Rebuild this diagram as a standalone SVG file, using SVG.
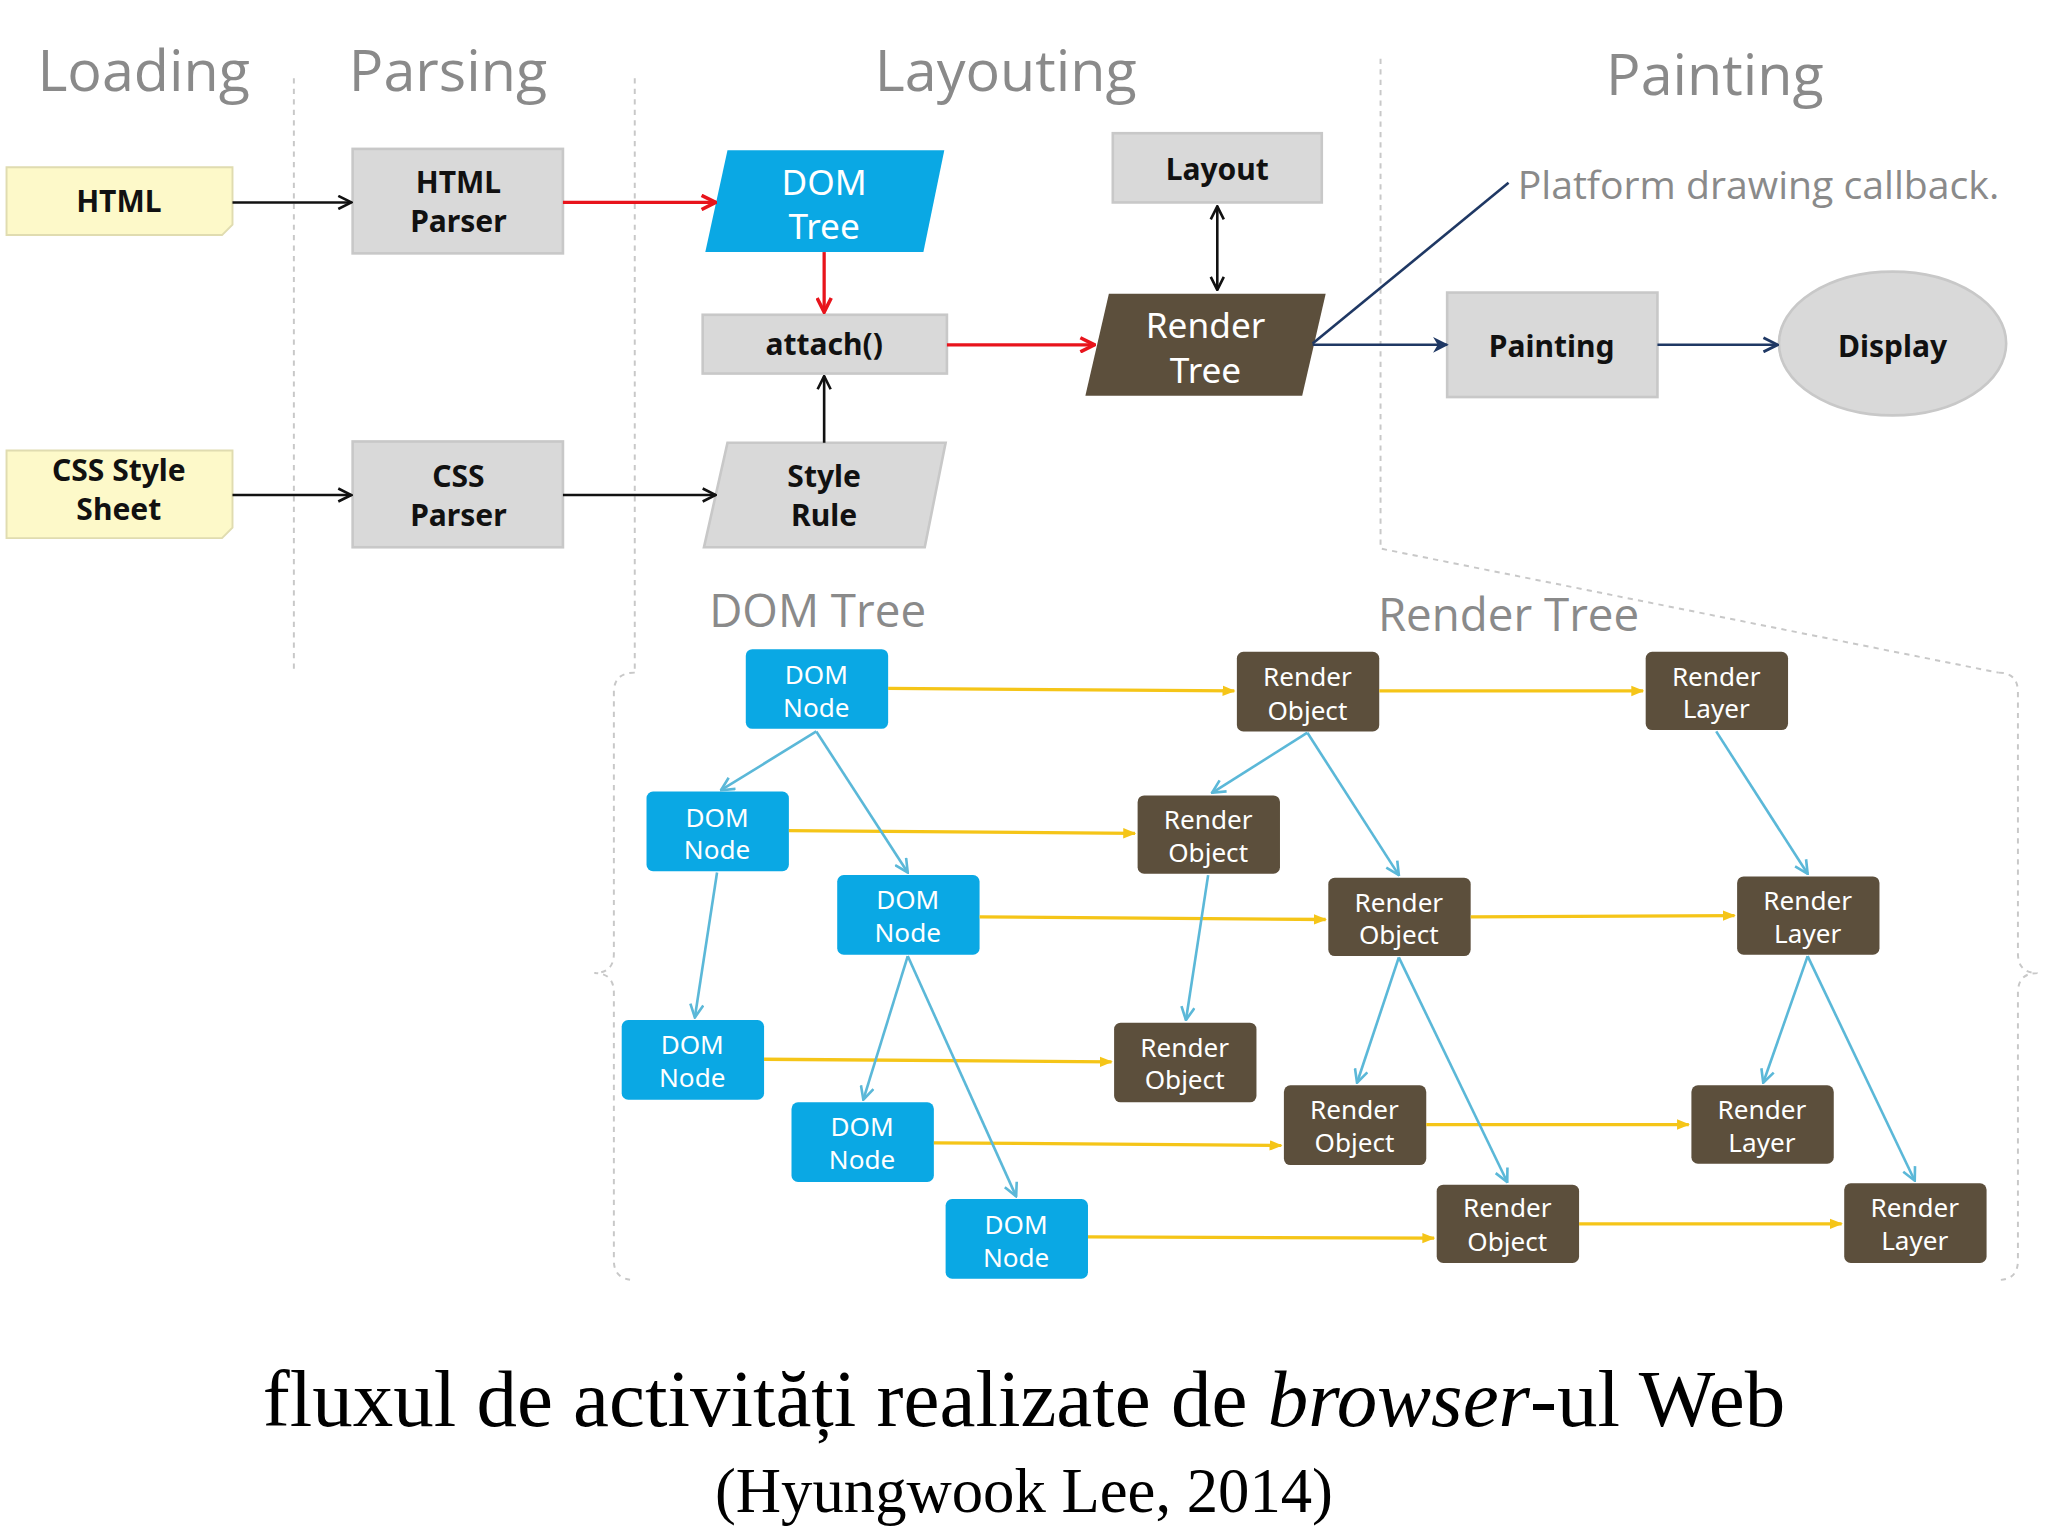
<svg xmlns="http://www.w3.org/2000/svg" width="2048" height="1536" viewBox="0 0 2048 1536">
<style>
.hd{font-family:"Open Sans","Noto Sans",sans-serif;font-size:44px;fill:#8a8a8a;text-anchor:middle}
.sub{font-family:"Open Sans","Noto Sans",sans-serif;font-size:35px;fill:#8a8a8a;text-anchor:middle}
.b{font-family:"Noto Sans","DejaVu Sans",sans-serif;font-weight:bold;font-size:23px;fill:#111;text-anchor:middle}
.w{font-family:"Noto Sans","DejaVu Sans",sans-serif;font-size:27px;fill:#fff;text-anchor:middle}
.s{font-family:"Noto Sans","DejaVu Sans",sans-serif;font-size:20px;fill:#fff;text-anchor:middle}
.g{fill:#d9d9d9;stroke:#c8c8c8;stroke-width:2}
.note{fill:#fdf9c9;stroke:#e0dcb0;stroke-width:1.5}
.dn{fill:#0aa8e4}
.rn{fill:#5c4f3c}
.dash{stroke:#c8c8c8;stroke-width:1.5;stroke-dasharray:4 4;fill:none}
.k{stroke:#111;stroke-width:2;fill:none}
.r{stroke:#e8141c;stroke-width:2.5;fill:none}
.y{stroke:#f5c518;stroke-width:2.5;fill:none}
.lb{stroke:#5bb8d8;stroke-width:2;fill:none}
.nv{stroke:#1f3864;stroke-width:2;fill:none}
</style>
<defs>
<marker id="ak" viewBox="0 0 12 12" refX="11" refY="6" markerWidth="12" markerHeight="12" markerUnits="userSpaceOnUse" orient="auto-start-reverse"><path d="M1,1 L11,6 L1,11" fill="none" stroke="#111" stroke-width="2"/></marker>
<marker id="ar" viewBox="0 0 12 12" refX="11" refY="6" markerWidth="13" markerHeight="13" markerUnits="userSpaceOnUse" orient="auto"><path d="M1,1 L11,6 L1,11" fill="none" stroke="#e8141c" stroke-width="2.5"/></marker>
<marker id="ay" viewBox="0 0 10 10" refX="9" refY="5" markerWidth="10" markerHeight="10" markerUnits="userSpaceOnUse" orient="auto"><path d="M0,1 L10,5 L0,9 Z" fill="#f5c518"/></marker>
<marker id="ab" viewBox="0 0 12 12" refX="11" refY="6" markerWidth="12" markerHeight="12" markerUnits="userSpaceOnUse" orient="auto"><path d="M1,1 L11,6 L1,11" fill="none" stroke="#5bb8d8" stroke-width="2"/></marker>
<marker id="anf" viewBox="0 0 10 10" refX="9" refY="5" markerWidth="12" markerHeight="12" markerUnits="userSpaceOnUse" orient="auto"><path d="M0,0 L10,5 L0,10 L3,5 Z" fill="#1f3864"/></marker>
<marker id="ano" viewBox="0 0 12 12" refX="11" refY="6" markerWidth="13" markerHeight="13" markerUnits="userSpaceOnUse" orient="auto"><path d="M1,1 L11,6 L1,11" fill="none" stroke="#1f3864" stroke-width="2"/></marker>
</defs>
<rect width="2048" height="1536" fill="#fff"/>
<g transform="scale(1.3061)">
<g id="headers">
<text class="hd" x="110" y="70">Loading</text>
<text class="hd" x="343" y="70">Parsing</text>
<text class="hd" x="770" y="70">Layouting</text>
<text class="hd" x="1313" y="73">Painting</text>
<path class="dash" d="M225,60 V515 M486,60 V515 M1057,45 V420 L1530,515"/>
<path class="dash" d="M486,515 Q470,515 470,530 V730 Q470,745 455,745 Q470,745 470,760 V965 Q470,980 486,980"/>
<path class="dash" d="M1530,515 Q1545,515 1545,530 V730 Q1545,745 1560,745 Q1545,745 1545,760 V965 Q1545,980 1530,980"/>
<text class="sub" x="626" y="480">DOM Tree</text>
<text class="sub" x="1155" y="483">Render Tree</text>
</g>
<g id="html"><path class="note" d="M5,128 H178 V172 L170,180 H5 Z"/><text class="b" x="91" y="162">HTML</text></g>
<g id="css"><path class="note" d="M5,345 H178 V404 L170,412 H5 Z"/><text class="b" x="91" y="368">CSS Style</text><text class="b" x="91" y="398">Sheet</text></g>
<g id="htmlparser"><rect class="g" x="270" y="114" width="161" height="80"/><text class="b" x="351" y="148">HTML</text><text class="b" x="351" y="178">Parser</text></g>
<g id="cssparser"><rect class="g" x="270" y="338" width="161" height="81"/><text class="b" x="351" y="373">CSS</text><text class="b" x="351" y="403">Parser</text></g>
<g id="domtree"><polygon class="dn" points="557,115 723,115 707,193 540,193"/><text class="w" x="631" y="149">DOM</text><text class="w" x="631" y="183">Tree</text></g>
<g id="attach"><rect class="g" x="538" y="241" width="187" height="45"/><text class="b" x="631" y="272">attach()</text></g>
<g id="stylerule"><polygon class="g" points="557,339 724,339 708,419 539,419"/><text class="b" x="631" y="373">Style</text><text class="b" x="631" y="403">Rule</text></g>
<g id="layout"><rect class="g" x="852" y="102" width="160" height="53"/><text class="b" x="932" y="138">Layout</text></g>
<g id="rendertree"><polygon class="rn" points="849,225 1015,225 997,303 831,303"/><text class="w" x="923" y="259">Render</text><text class="w" x="923" y="293">Tree</text></g>
<g id="painting"><rect class="g" x="1108" y="224" width="161" height="80"/><text class="b" x="1188" y="273">Painting</text></g>
<g id="display"><ellipse class="g" cx="1449" cy="263" rx="87" ry="55"/><text class="b" x="1449" y="273">Display</text></g>
<g id="callback"><text x="1162" y="152" font-family="'Open Sans','Noto Sans',sans-serif" font-size="30" fill="#8a8a8a">Platform drawing callback.</text></g>

<g id="dom-nodes">
<g id="n1"><rect class="dn" x="571" y="497" width="109" height="61" rx="5"/><text class="s" x="625" y="524">DOM</text><text class="s" x="625" y="549">Node</text></g>
<g id="n2"><rect class="dn" x="495" y="606" width="109" height="61" rx="5"/><text class="s" x="549" y="633">DOM</text><text class="s" x="549" y="658">Node</text></g>
<g id="n3"><rect class="dn" x="641" y="670" width="109" height="61" rx="5"/><text class="s" x="695" y="696">DOM</text><text class="s" x="695" y="721">Node</text></g>
<g id="n4"><rect class="dn" x="476" y="781" width="109" height="61" rx="5"/><text class="s" x="530" y="807">DOM</text><text class="s" x="530" y="832">Node</text></g>
<g id="n5"><rect class="dn" x="606" y="844" width="109" height="61" rx="5"/><text class="s" x="660" y="870">DOM</text><text class="s" x="660" y="895">Node</text></g>
<g id="n6"><rect class="dn" x="724" y="918" width="109" height="61" rx="5"/><text class="s" x="778" y="945">DOM</text><text class="s" x="778" y="970">Node</text></g>
</g>
<g id="render-objects">
<g id="r1"><rect class="rn" x="947" y="499" width="109" height="61" rx="5"/><text class="s" x="1001" y="525">Render</text><text class="s" x="1001" y="551">Object</text></g>
<g id="r2"><rect class="rn" x="871" y="609" width="109" height="60" rx="5"/><text class="s" x="925" y="635">Render</text><text class="s" x="925" y="660">Object</text></g>
<g id="r3"><rect class="rn" x="1017" y="672" width="109" height="60" rx="5"/><text class="s" x="1071" y="698">Render</text><text class="s" x="1071" y="723">Object</text></g>
<g id="r4"><rect class="rn" x="853" y="783" width="109" height="61" rx="5"/><text class="s" x="907" y="809">Render</text><text class="s" x="907" y="834">Object</text></g>
<g id="r5"><rect class="rn" x="983" y="831" width="109" height="61" rx="5"/><text class="s" x="1037" y="857">Render</text><text class="s" x="1037" y="882">Object</text></g>
<g id="r6"><rect class="rn" x="1100" y="907" width="109" height="60" rx="5"/><text class="s" x="1154" y="932">Render</text><text class="s" x="1154" y="958">Object</text></g>
</g>
<g id="render-layers">
<g id="l1"><rect class="rn" x="1260" y="499" width="109" height="60" rx="5"/><text class="s" x="1314" y="525">Render</text><text class="s" x="1314" y="550">Layer</text></g>
<g id="l2"><rect class="rn" x="1330" y="671" width="109" height="60" rx="5"/><text class="s" x="1384" y="697">Render</text><text class="s" x="1384" y="722">Layer</text></g>
<g id="l3"><rect class="rn" x="1295" y="831" width="109" height="60" rx="5"/><text class="s" x="1349" y="857">Render</text><text class="s" x="1349" y="882">Layer</text></g>
<g id="l4"><rect class="rn" x="1412" y="906" width="109" height="61" rx="5"/><text class="s" x="1466" y="932">Render</text><text class="s" x="1466" y="957">Layer</text></g>
</g>

<g id="connectors">
<line class="k" x1="178" y1="155" x2="269" y2="155" marker-end="url(#ak)"/>
<line class="k" x1="178" y1="379" x2="269" y2="379" marker-end="url(#ak)"/>
<line class="k" x1="431" y1="379" x2="548" y2="379" marker-end="url(#ak)"/>
<line class="k" x1="631" y1="339" x2="631" y2="288" marker-end="url(#ak)"/>
<line class="k" x1="932" y1="158" x2="932" y2="222" marker-start="url(#ak)" marker-end="url(#ak)"/>
<line class="r" x1="431" y1="155" x2="548" y2="155" marker-end="url(#ar)"/>
<line class="r" x1="631" y1="193" x2="631" y2="239" marker-end="url(#ar)"/>
<line class="r" x1="725" y1="264" x2="838" y2="264" marker-end="url(#ar)"/>
<line class="nv" x1="1005" y1="264" x2="1108" y2="264" marker-end="url(#anf)"/>
<line class="nv" x1="1269" y1="264" x2="1361" y2="264" marker-end="url(#ano)"/>
<line class="nv" x1="1005" y1="263" x2="1155" y2="140"/>
<line class="y" x1="680" y1="527" x2="945" y2="529" marker-end="url(#ay)"/>
<line class="y" x1="1056" y1="529" x2="1258" y2="529" marker-end="url(#ay)"/>
<line class="y" x1="604" y1="636" x2="869" y2="638" marker-end="url(#ay)"/>
<line class="y" x1="750" y1="702" x2="1015" y2="704" marker-end="url(#ay)"/>
<line class="y" x1="1126" y1="702" x2="1328" y2="701" marker-end="url(#ay)"/>
<line class="y" x1="585" y1="811" x2="851" y2="813" marker-end="url(#ay)"/>
<line class="y" x1="715" y1="875" x2="981" y2="877" marker-end="url(#ay)"/>
<line class="y" x1="1092" y1="861" x2="1293" y2="861" marker-end="url(#ay)"/>
<line class="y" x1="833" y1="947" x2="1098" y2="948" marker-end="url(#ay)"/>
<line class="y" x1="1209" y1="937" x2="1410" y2="937" marker-end="url(#ay)"/>
<line class="lb" x1="625" y1="560" x2="552" y2="605" marker-end="url(#ab)"/>
<line class="lb" x1="625" y1="560" x2="695" y2="668" marker-end="url(#ab)"/>
<line class="lb" x1="549" y1="668" x2="532" y2="779" marker-end="url(#ab)"/>
<line class="lb" x1="695" y1="732" x2="661" y2="842" marker-end="url(#ab)"/>
<line class="lb" x1="695" y1="732" x2="778" y2="916" marker-end="url(#ab)"/>
<line class="lb" x1="1001" y1="561" x2="928" y2="607" marker-end="url(#ab)"/>
<line class="lb" x1="1001" y1="561" x2="1071" y2="670" marker-end="url(#ab)"/>
<line class="lb" x1="925" y1="670" x2="908" y2="781" marker-end="url(#ab)"/>
<line class="lb" x1="1071" y1="733" x2="1039" y2="829" marker-end="url(#ab)"/>
<line class="lb" x1="1071" y1="733" x2="1154" y2="905" marker-end="url(#ab)"/>
<line class="lb" x1="1314" y1="560" x2="1384" y2="669" marker-end="url(#ab)"/>
<line class="lb" x1="1384" y1="732" x2="1350" y2="829" marker-end="url(#ab)"/>
<line class="lb" x1="1384" y1="732" x2="1466" y2="904" marker-end="url(#ab)"/>
</g>
<g id="caption" font-family="'Liberation Serif','DejaVu Serif',serif" fill="#000" text-anchor="middle">
<text x="784" y="1092" font-size="62">fluxul de activități realizate de <tspan font-style="italic">browser</tspan>-ul Web</text>
<text x="784" y="1158" font-size="48">(Hyungwook Lee, 2014)</text>
</g>
</g>
</svg>
